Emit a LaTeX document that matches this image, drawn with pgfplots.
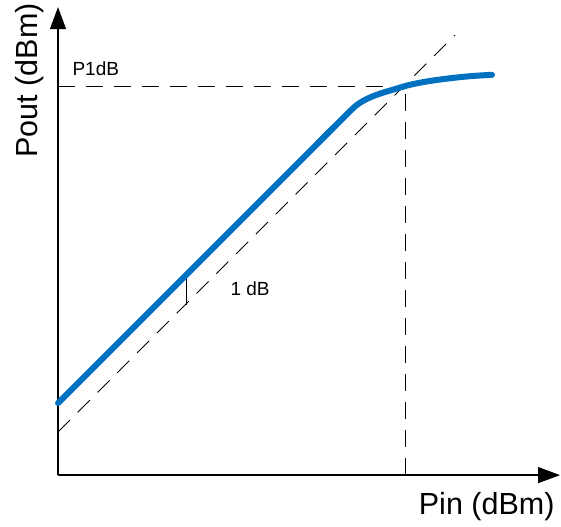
\documentclass[border=0pt]{standalone}
\usepackage{fontspec}
\setmainfont{Liberation Sans}
\usepackage{pgfplots}
\pgfplotsset{compat=1.18}
\usetikzlibrary{arrows.meta}
\definecolor{curveblue}{HTML}{0070C0}

\begin{document}
\begin{tikzpicture}
\begin{axis}[
  scale only axis,
  width=502pt, height=468pt,
  xmin=0, xmax=502, ymin=0, ymax=468,
  axis lines=left,
  axis line style={line width=1.3pt, -{Triangle[length=22pt,width=16pt]}},
  xtick=\empty, ytick=\empty,
  clip=false,
]
% invisible frame so the page is 561 x 524
\path (axis cs:-58,-51) rectangle (axis cs:503,473);

% reference lines
\addplot[black, line width=0.9pt, dash pattern=on 17pt off 11pt] coordinates {(0,43) (397,440)};
\addplot[black, line width=0.9pt, dash pattern=on 17pt off 11pt] coordinates {(0,389) (347,389)};
\addplot[black, line width=0.9pt, dash pattern=on 17pt off 11pt] coordinates {(347,0) (347,389)};

% 1 dB marker
\addplot[black, line width=0.8pt] coordinates {(128,170) (128,200)};

% Pout vs Pin: linear part, then compression
\addplot[curveblue, line width=6pt, line cap=round] coordinates {(0,72) (275,347)};
\addplot[curveblue, line width=6pt, line cap=round, smooth, tension=0.55] coordinates {
  (260,332) (275,347) (290,362) (300,371) (311,377.2) (323,381.8)
  (336,385.7) (350,389.8) (368,393.5) (390,396.6) (412,398.9) (434,400.3)
};

\node[anchor=base west, font=\fontsize{19}{22}\selectfont] at (axis cs:11,399.5) {P1dB};
\node[anchor=base west, font=\fontsize{19}{22}\selectfont] at (axis cs:169,180) {1 dB};
\node[anchor=base east, font=\fontsize{30.5}{36}\selectfont] at (axis cs:500,-39) {Pin (dBm)};
\node[anchor=base west, rotate=90, font=\fontsize{30.5}{36}\selectfont] at (axis cs:-20.5,314) {Pout (dBm)};
\end{axis}
\end{tikzpicture}
\end{document}
